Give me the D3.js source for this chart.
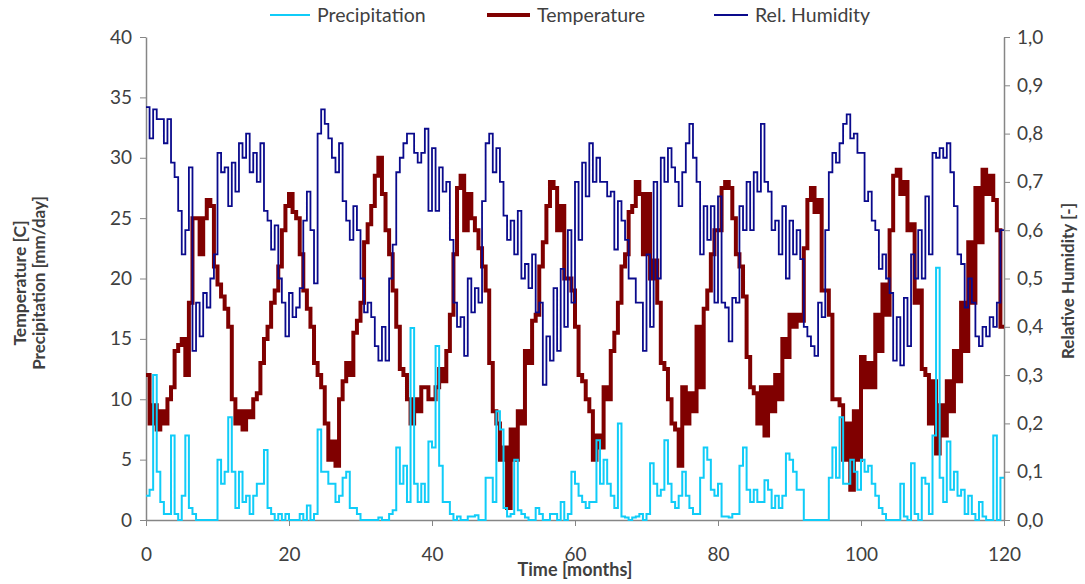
<!DOCTYPE html>
<html>
<head>
<meta charset="utf-8">
<script src="https://cdn.jsdelivr.net/npm/d3@7"></script>
<style>
  body { margin: 0; background: #fff; }
  svg text { font-family: Lato, "Liberation Sans", sans-serif; fill: #404040; }
  .axis path, .axis line { stroke: #868686; }
</style>
</head>
<body>
<div id="chart"></div>
<script>
// half-month steps, two values per month (0..120 months)
var temperature = [
  12,8, 9.5,7.5, 9,8, 10,11, 14,14.5, 15,12, 18,25, 25,22, 25,26.5, 26,21,
  19.5,18.5, 17.5,16, 10,8, 9,7.5, 9,8.5, 10,10.5, 13,15, 16,18, 19,21, 24,26,
  27,25.5, 25,22, 19,17.5, 16,13, 12,11, 8,5, 6.5,4.5, 10,11.5, 13,12, 15.5,16.5,
  18,23, 24.5,26, 28.5,30, 27,24, 22,19, 16,12.5, 12,10, 8,10, 9,11, 11,10,
  10,11, 12.5,11.5, 14,17, 22,27.5, 28.5,24, 27,25, 24,22.5, 21,19, 13,9, 8,5,
  6,1, 7.5,5, 9,8, 14,13, 16.5,17, 21,23, 26,28, 27.5,24, 26,20, 20,19,
  16,12, 11.5,10, 9,5, 7,6, 11,10, 14,15.5, 18,21, 22,25.5, 26,28, 27,22,
  27,20, 21.5,18, 13,12.5, 10,8, 7.5,4.5, 11,8, 10.5,9, 16,11, 17.5,19, 22,24,
  24,27.5, 28,27.5, 25,22, 21,18.5, 13.5,11, 10.5,8, 11,7, 11,9, 12,10, 15,13.5,
  17,16, 17,16.5, 22.5,26.5, 27.5,25.5, 26.5,19, 19,17, 10,10, 9.5,5, 8,2.5, 9,5,
  13.5,11, 13,11, 17,14, 19.5,17, 24,28.5, 29,27, 28,24, 24.5,18, 19,12.5, 12,8,
  11.5,5.5, 9.5,7, 11.5,9, 14,11.5, 18,14, 23,18, 27.5,23, 29,27, 28.5,26.5, 24,16
];

var humidity = [
  0.855,0.79, 0.85,0.83, 0.83,0.78, 0.83,0.74, 0.71,0.64, 0.55,0.6, 0.73,0.35, 0.45,0.38, 0.47,0.44, 0.5,0.55,
  0.76,0.72, 0.73,0.65, 0.74,0.68, 0.78,0.75, 0.8,0.72, 0.76,0.7, 0.78,0.64, 0.62,0.56, 0.61,0.5, 0.45,0.38,
  0.47,0.42, 0.44,0.48, 0.62,0.68, 0.6,0.49, 0.8,0.85, 0.82,0.79, 0.75,0.72, 0.78,0.66, 0.62,0.58, 0.65,0.6,
  0.5,0.43, 0.45,0.42, 0.36,0.33, 0.4,0.33, 0.5,0.57, 0.72,0.75, 0.78,0.8, 0.8,0.76, 0.74,0.76, 0.81,0.64,
  0.77,0.64, 0.73,0.68, 0.7,0.58, 0.45,0.4, 0.42,0.34, 0.5,0.43, 0.48,0.45, 0.66,0.78, 0.8,0.72, 0.77,0.7,
  0.63,0.58, 0.62,0.55, 0.64,0.5, 0.53,0.48, 0.55,0.43, 0.45,0.28, 0.38,0.33, 0.48,0.35, 0.52,0.4, 0.6,0.45,
  0.7,0.58, 0.74,0.67, 0.78,0.7, 0.75,0.7, 0.7,0.67, 0.68,0.56, 0.66,0.62, 0.58,0.5, 0.5,0.45, 0.45,0.35,
  0.55,0.4, 0.7,0.5, 0.75,0.7, 0.77,0.73, 0.7,0.65, 0.72,0.78, 0.82,0.75, 0.7,0.55, 0.65,0.58, 0.65,0.45,
  0.67,0.45, 0.44,0.37, 0.46,0.45, 0.65,0.6, 0.7,0.6, 0.72,0.68, 0.82,0.7, 0.68,0.6, 0.62,0.55, 0.65,0.5,
  0.62,0.55, 0.6,0.54, 0.4,0.38, 0.36,0.34, 0.45,0.42, 0.6,0.72, 0.76,0.74, 0.78,0.82, 0.84,0.79, 0.8,0.76,
  0.76,0.66, 0.68,0.62, 0.6,0.52, 0.55,0.5, 0.47,0.33, 0.42,0.32, 0.46,0.36, 0.55,0.5, 0.6,0.5, 0.67,0.55,
  0.76,0.75, 0.77,0.75, 0.78,0.72, 0.65,0.55, 0.53,0.44, 0.5,0.45, 0.38,0.36, 0.4,0.38, 0.42,0.4, 0.45,0.6
];

var precipitation = [
  2,2.5, 12,4, 1.5,0.5, 0.5,7, 0.5,0, 2,7, 1,0.5, 0,0, 0,0, 0,0,
  5,3, 4,8.5, 4,1, 4,1.5, 2,0.5, 2,3, 3,5.8, 1,0.5, 0,0.5, 0,0.5,
  0,0, 0,0.5, 0,1.2, 0,0.5, 7.5,4, 4,3, 3,1.5, 2,3.5, 4,1, 1,0.5,
  0,0, 0,0, 0,0.2, 0,0, 0.5,0.8, 6,3, 4.5,1.5, 15.9,3, 1.5,3, 1.5,6.5,
  6,14.4, 4.5,1.5, 1.5,0.5, 0,0.3, 0,0, 0.3,0.3, 0.4,0, 0,3.5, 3.5,1.5, 9,7.5,
  1,0.3, 0.5,5, 0.8,0.5, 0.2,0, 0,1, 0.5,0, 0,0.5, 0.5,0, 1.5,0, 0.5,4,
  3,2, 1.5,1, 1.5,1.5, 6.6,3, 5,3, 2,1, 8,0.3, 0.2,0, 0.2,0.3, 0.5,0,
  0.5,4.7, 3,2, 2.5,6.6, 3,1.5, 1,2, 4,2, 1,0.5, 0.5,3.5, 6,5, 2.5,2,
  3,0.3, 0.3,0.2, 0.5,0.5, 4.5,6, 2.5,1.5, 2.5,1.5, 1.5,3.3, 2.5,1, 2,1, 2,5.5,
  5,4, 2.5,2.5, 0,0, 0,0, 0,0, 0,3.5, 6,3.5, 8.5,3, 3,5, 4,2.5,
  5,4, 4.5,3, 2,1, 0.5,0, 0,0, 0,3, 0.3,0, 4.7,0.5, 0,3.5, 3,0.5,
  7,20.9, 3.5,1.5, 6.5,2.5, 4,2, 2.5,0.5, 2,0.5, 0,1.5, 0.3,0, 0,7, 0,3.5
];

var xTicks = [0, 20, 40, 60, 80, 100, 120];
var leftTicks = [0, 5, 10, 15, 20, 25, 30, 35, 40];
var rightTicks = [0, 0.1, 0.2, 0.3, 0.4, 0.5, 0.6, 0.7, 0.8, 0.9, 1.0];

var W = 1085, H = 584;
var margin = {top: 37, right: 81, bottom: 64, left: 146};
var width = W - margin.left - margin.right,
    height = H - margin.top - margin.bottom;

var svg = d3.select("#chart").append("svg")
  .attr("width", W).attr("height", H);
var g = svg.append("g")
  .attr("transform", `translate(${margin.left},${margin.top})`);

var x = d3.scaleLinear().domain([0, 120]).range([0, width]);
var yL = d3.scaleLinear().domain([0, 40]).range([height, 0]);
var yR = d3.scaleLinear().domain([0, 1]).range([height, 0]);

// step points: value i holds from month i/2 to (i+1)/2
function steps(arr) {
  var pts = arr.map((v, i) => [i * 0.5, v]);
  pts.push([120, arr[arr.length - 1]]);
  return pts;
}

// axes
g.append("g").attr("class", "axis")
  .attr("transform", `translate(0,${height})`)
  .call(d3.axisBottom(x).tickValues(xTicks).tickSize(6).tickPadding(22).tickSizeOuter(0))
  .call(a => a.selectAll("text").style("font-size", "19px"));

g.append("g").attr("class", "axis")
  .call(d3.axisLeft(yL).tickValues(leftTicks).tickSize(6).tickPadding(8).tickSizeOuter(0))
  .call(a => a.selectAll("text").style("font-size", "19px"));

g.append("g").attr("class", "axis")
  .attr("transform", `translate(${width},0)`)
  .call(d3.axisRight(yR).tickValues(rightTicks).tickSize(6).tickPadding(7).tickSizeOuter(0)
    .tickFormat(d => d3.format(".1f")(d).replace(".", ",")))
  .call(a => a.selectAll("text").style("font-size", "19px"));

g.selectAll(".axis path").attr("stroke-width", 1.5);

// series
var lineL = d3.line().x(d => x(d[0])).y(d => yL(d[1])).curve(d3.curveStepAfter);
var lineR = d3.line().x(d => x(d[0])).y(d => yR(d[1])).curve(d3.curveStepAfter);

g.append("path").datum(steps(temperature))
  .attr("d", lineL).attr("fill", "none")
  .attr("stroke", "#800000").attr("stroke-width", 4);

g.append("path").datum(steps(precipitation))
  .attr("d", lineL).attr("fill", "none")
  .attr("stroke", "#10ccf8").attr("stroke-width", 2);

g.append("path").datum(steps(humidity))
  .attr("d", lineR).attr("fill", "none")
  .attr("stroke", "#0a0a8c").attr("stroke-width", 1.8);

// legend
var legend = [
  {name: "Precipitation", color: "#10ccf8", w: 2, x0: 270, x1: 310},
  {name: "Temperature", color: "#800000", w: 4, x0: 487, x1: 530},
  {name: "Rel. Humidity", color: "#0a0a8c", w: 1.8, x0: 714, x1: 748}
];
legend.forEach(function(l) {
  svg.append("line").attr("x1", l.x0).attr("x2", l.x1).attr("y1", 15).attr("y2", 15)
    .attr("stroke", l.color).attr("stroke-width", l.w);
  svg.append("text").attr("x", l.x1 + 7).attr("y", 22)
    .style("font-size", "19.5px").text(l.name);
});

// axis titles
svg.append("text").attr("x", 575).attr("y", 576)
  .attr("text-anchor", "middle").style("font-size", "18px").style("font-weight", "bold")
  .text("Time [months]");

svg.append("text").attr("transform", "translate(26,283) rotate(-90)")
  .attr("text-anchor", "middle").style("font-size", "17.5px").style("font-weight", "bold")
  .text("Temperature [C]");
svg.append("text").attr("transform", "translate(45,283) rotate(-90)")
  .attr("text-anchor", "middle").style("font-size", "17px").style("font-weight", "bold")
  .text("Precipitation [mm/day]");

svg.append("text").attr("transform", "translate(1074,281) rotate(-90)")
  .attr("text-anchor", "middle").style("font-size", "17px").style("font-weight", "bold")
  .text("Relative Humidity [-]");
</script>
</body>
</html>
